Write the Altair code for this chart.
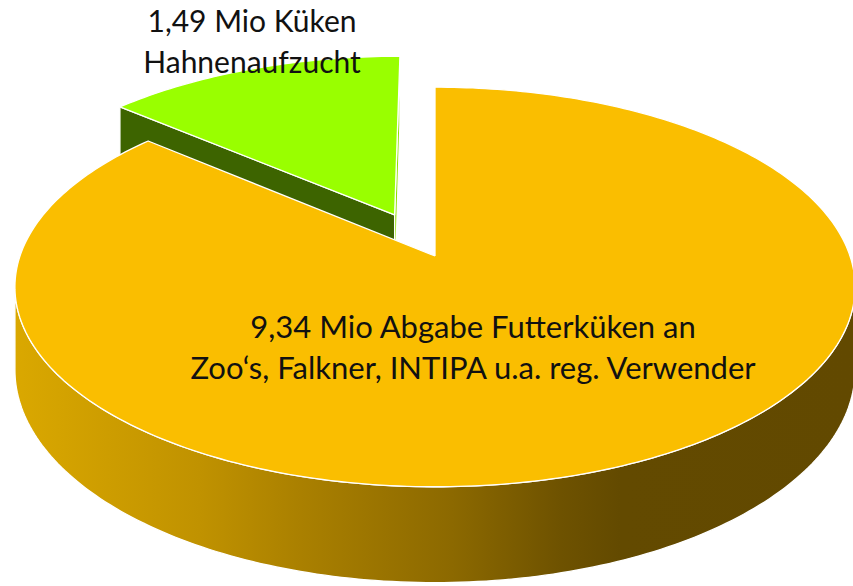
import numpy as np
import pandas as pd
import altair as alt

# ---------------- data ----------------
categories = ["Abgabe Futterküken", "Hahnenaufzucht"]
values = [9.34, 1.49]
label_lines = [
    ["9,34 Mio Abgabe Futterküken an", "Zoo‘s, Falkner, INTIPA u.a. reg. Verwender"],
    ["1,49 Mio Küken", "Hahnenaufzucht"],
]

# ---------------- style / geometry (not data) ----------------
W, H = 853, 586
CX, CY = 435.0, 256.0      # projected pie centre
RA, RB = 415.0, 195.0      # horizontal / vertical radius of top face
DEPTH = 81.0               # pie thickness
K = 0.155                  # perspective strength
EXPLODE = [0.0, 0.24]
TOP_COL = ["#FABE00", "#99FF00"]
SIDE_COL = ["#C09200", "#3D6400"]
EDGE_COL = ["#C09200", "#8FE000"]
CAM = (0.0, 1.0 / K)       # viewer position in disc plane coordinates


def proj(u, v, z):
    s = 1.0 / (1.0 - K * v)
    return CX + RA * u * s, CY + (RB * v + DEPTH * z) * s


def arc(du, dv, a0, a1, z):
    n = max(2, int(abs(a1 - a0)) + 1)
    ps = np.radians(np.linspace(a0, a1, n))
    return [proj(du + np.sin(p), dv - np.cos(p), z) for p in ps]


total = sum(values)
bounds = np.concatenate([[0.0], np.cumsum(values) / total * 360.0])

polys = []  # (name, points, fill)
for j, cat in enumerate(categories):
    a0, a1 = bounds[j], bounds[j + 1]
    mid = np.radians((a0 + a1) / 2)
    du, dv = EXPLODE[j] * np.sin(mid), -EXPLODE[j] * np.cos(mid)
    faces = []
    # radial faces (back-face culled)
    for ang, sign in ((a0, -1), (a1, 1)):
        r = np.radians(ang)
        out = (sign * np.cos(r), sign * np.sin(r))
        vis = out[0] * (CAM[0] - du) + out[1] * (CAM[1] - dv)
        if vis > 0.02:
            pts = [proj(du, dv, 0), proj(du + np.sin(r), dv - np.cos(r), 0),
                   proj(du + np.sin(r), dv - np.cos(r), 1), proj(du, dv, 1)]
            faces.append((f"{cat}_edge{sign}", pts, SIDE_COL[j] if sign < 0 else EDGE_COL[j]))
    # outer side: visible where outward normal faces viewer
    lo = np.degrees(np.arccos(-K))
    s0, s1 = max(a0, lo), min(a1, 360 - lo)
    if s1 > s0:
        pts = arc(du, dv, s0, s1, 0) + arc(du, dv, s1, s0, 1)
        faces.append((f"{cat}_side", pts, "gradient" if j == 0 else SIDE_COL[j]))
    top = [proj(du, dv, 0)] + arc(du, dv, a0, a1, 0)
    faces.append((f"{cat}_top", top, TOP_COL[j]))
    polys.append(faces)

# back to front: second slice (at the back) first
order = [1, 0]
side_gradient = alt.Gradient(
    gradient="linear", x1=0, x2=1, y1=0, y2=0,
    stops=[
        alt.GradientStop(color="#DAA800", offset=0),
        alt.GradientStop(color="#C09200", offset=0.22),
        alt.GradientStop(color="#AA8000", offset=0.34),
        alt.GradientStop(color="#8C6900", offset=0.52),
        alt.GradientStop(color="#6E5200", offset=0.65),
        alt.GradientStop(color="#634A00", offset=0.72),
        alt.GradientStop(color="#624900", offset=1),
    ],
)

xs = alt.X("x:Q", scale=alt.Scale(domain=[0, W]), axis=None)
ys = alt.Y("y:Q", scale=alt.Scale(domain=[0, H], reverse=True), axis=None)

layers = []
for j in order:
    for name, pts, fill in polys[j]:
        pts = list(pts) + [pts[0]]
        df = pd.DataFrame({"i": range(len(pts)),
                           "x": [p[0] for p in pts],
                           "y": [p[1] for p in pts]})
        f = side_gradient if fill == "gradient" else fill
        layers.append(
            alt.Chart(df).mark_line(fill=f, stroke="white", strokeWidth=1.3,
                                    strokeJoin="round", interpolate="linear")
            .encode(x=xs, y=ys, order="i:Q")
        )

# labels
lab_pos = [(473, 338), (252, 32)]
lab_size = [31, 30]
for j in range(len(categories)):
    ldf = pd.DataFrame({"t": ["\n".join(label_lines[j])]})
    layers.append(
        alt.Chart(ldf).mark_text(
            font="Lato", fontSize=lab_size[j], color="#111111", align="center",
            baseline="alphabetic", lineBreak="\n", lineHeight=40.5,
        ).encode(text="t:N", x=alt.value(lab_pos[j][0]), y=alt.value(lab_pos[j][1]))
    )

chart = (
    alt.layer(*layers)
    .properties(width=W, height=H, autosize=alt.AutoSizeParams(type="none"), padding=0)
    .configure_view(stroke=None)
)
chart.save("out.html", embed_options={"renderer": "svg", "actions": False})
